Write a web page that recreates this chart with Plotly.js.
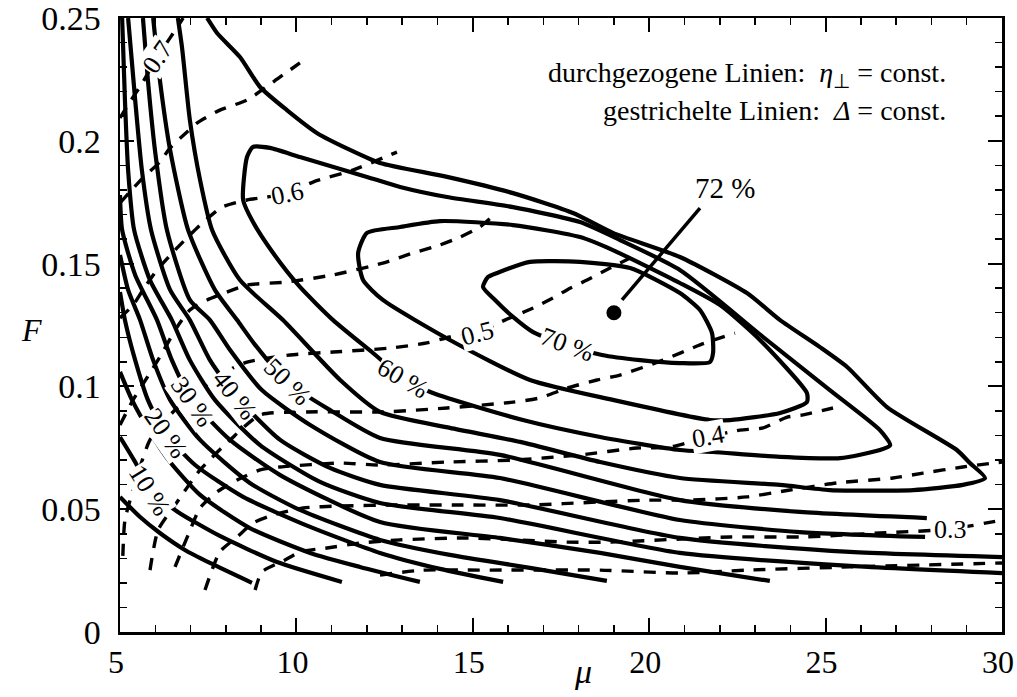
<!DOCTYPE html>
<html><head><meta charset="utf-8">
<script src="https://cdn.plot.ly/plotly-3.0.1.min.js"></script>
<style>html,body{margin:0;padding:0;background:#fff}</style>
</head><body><div id="chart" style="width:1017px;height:697px"></div>
<script>
// ---- solid lines: eta = const ----
const eta05Mu = [5.00, 5.57, 6.13, 6.84, 7.55, 8.74];
const eta05F  = [0.0550, 0.0468, 0.0403, 0.0334, 0.0281, 0.0200];
const eta10Mu = [5.00, 5.43, 5.85, 6.64, 7.83, 9.45, 11.29];
const eta10F  = [0.0794, 0.0692, 0.0578, 0.0489, 0.0391, 0.0285, 0.0204];
const eta15Mu = [5.00, 5.34, 5.85, 6.42, 7.27, 8.68, 10.39, 11.80, 13.50];
const eta15F  = [0.1059, 0.0945, 0.0814, 0.0692, 0.0558, 0.0423, 0.0322, 0.0265, 0.0204];
const eta20Mu = [5.00, 5.14, 5.43, 5.79, 6.28, 7.13, 8.49, 10.39, 12.37, 14.07, 15.86];
const eta20F  = [0.1384, 0.1270, 0.1107, 0.0945, 0.0810, 0.0680, 0.0550, 0.0428, 0.0322, 0.0257, 0.0204];
const eta25Mu = [5.00, 5.23, 5.57, 5.94, 6.42, 7.27, 8.68, 10.10, 12.37, 14.35, 16.62, 18.80];
const eta25F  = [0.1535, 0.1393, 0.1270, 0.1107, 0.0945, 0.0782, 0.0607, 0.0497, 0.0375, 0.0314, 0.0261, 0.0208];
const eta30Mu = [5.00, 5.06, 5.43, 6.05, 6.47, 7.04, 8.12, 9.54, 12.37, 15.77, 18.61, 20.87, 23.42];
const eta30F  = [0.1779, 0.1637, 0.1454, 0.1270, 0.1107, 0.0945, 0.0782, 0.0639, 0.0448, 0.0383, 0.0322, 0.0265, 0.0208];
const eta35Mu = [5.06, 5.14, 5.23, 5.40, 5.85, 6.47, 6.98, 7.69, 8.97, 10.67, 12.37, 15.77, 20.87, 25.69, 30.00];
const eta35F  = [0.2500, 0.2166, 0.1881, 0.1637, 0.1433, 0.1270, 0.1107, 0.0945, 0.0761, 0.0611, 0.0525, 0.0464, 0.0322, 0.0269, 0.0240];
const eta40Mu = [5.23, 5.43, 5.62, 5.88, 6.42, 6.98, 7.55, 8.26, 9.54, 10.95, 12.37, 15.77, 20.87, 25.69, 30.00];
const eta40F  = [0.2500, 0.2166, 0.1881, 0.1637, 0.1393, 0.1270, 0.1107, 0.0965, 0.0782, 0.0668, 0.0599, 0.0537, 0.0383, 0.0326, 0.0305];
const eta45Mu = [5.65, 5.79, 5.99, 6.33, 6.98, 7.55, 8.12, 9.02, 10.39, 12.37, 15.77, 20.87, 24.27, 27.82];
const eta45F  = [0.2500, 0.2248, 0.1963, 0.1637, 0.1352, 0.1270, 0.1148, 0.0985, 0.0843, 0.0692, 0.0627, 0.0456, 0.0407, 0.0387];
const eta50Mu = [5.94, 6.13, 6.42, 6.93, 7.69, 8.32, 8.83, 9.73, 10.95, 12.37, 15.77, 20.87, 24.27, 27.87];
const eta50F  = [0.2500, 0.2248, 0.1963, 0.1637, 0.1393, 0.1270, 0.1169, 0.1018, 0.0904, 0.0790, 0.0721, 0.0537, 0.0489, 0.0464];
const eta55Mu = [6.64, 6.76, 6.98, 7.27, 7.61, 8.40, 9.62, 11.24, 12.37, 14.35, 16.34, 18.61, 20.87, 23.71, 25.12, 27.48, 28.89, 29.52, 29.09, 28.72, 26.74, 25.61, 24.84, 23.71, 22.77, 20.87, 18.97, 17.84, 16.14, 14.27, 12.37, 11.52, 10.58, 9.73, 8.97, 8.40, 7.75, 7.47];
const eta55F  = [0.2500, 0.2378, 0.2085, 0.1840, 0.1637, 0.1433, 0.1270, 0.1026, 0.0896, 0.0831, 0.0774, 0.0692, 0.0627, 0.0599, 0.0578, 0.0578, 0.0599, 0.0627, 0.0688, 0.0741, 0.0916, 0.1079, 0.1160, 0.1270, 0.1380, 0.1527, 0.1625, 0.1706, 0.1787, 0.1853, 0.1910, 0.1963, 0.2032, 0.2125, 0.2219, 0.2341, 0.2439, 0.2500];
const eta60Mu = [8.77, 8.60, 8.49, 8.77, 9.34, 10.10, 11.04, 12.17, 13.02, 13.87, 16.42, 18.61, 20.87, 21.81, 23.71, 25.41, 26.54, 26.83, 26.54, 25.12, 23.23, 20.87, 19.17, 18.04, 16.14, 14.27, 12.94, 12.00, 10.10, 9.25, 8.77];
const eta60F  = [0.1975, 0.1934, 0.1759, 0.1669, 0.1543, 0.1405, 0.1270, 0.1136, 0.1034, 0.0973, 0.0863, 0.0794, 0.0741, 0.0733, 0.0713, 0.0708, 0.0741, 0.0761, 0.0822, 0.0985, 0.1201, 0.1474, 0.1596, 0.1669, 0.1730, 0.1771, 0.1812, 0.1853, 0.1934, 0.1971, 0.1975];
const eta65Mu = [12.94, 12.00, 11.75, 11.89, 12.45, 14.35, 16.62, 18.97, 21.72, 22.29, 23.71, 24.47, 24.47, 23.14, 22.01, 20.87, 18.97, 18.04, 16.14, 14.07, 12.94];
const eta65F  = [0.1649, 0.1625, 0.1543, 0.1433, 0.1352, 0.1189, 0.1026, 0.0945, 0.0863, 0.0863, 0.0892, 0.0936, 0.0973, 0.1189, 0.1331, 0.1421, 0.1555, 0.1608, 0.1657, 0.1673, 0.1649];
const eta70Mu = [16.71, 16.14, 15.63, 15.29, 15.43, 15.69, 16.62, 18.04, 19.46, 20.87, 21.44, 21.78, 21.81, 21.72, 20.87, 19.74, 18.66, 17.67, 16.71];
const eta70F  = [0.1221, 0.1283, 0.1352, 0.1405, 0.1445, 0.1462, 0.1507, 0.1507, 0.1482, 0.1380, 0.1311, 0.1217, 0.1136, 0.1099, 0.1095, 0.1107, 0.1128, 0.1169, 0.1221];

// ---- dashed lines: Delta = const ----
const d70Mu = [5.00, 5.28, 5.65, 6.05, 6.42, 6.79];
const d70F  = [0.2093, 0.2158, 0.2239, 0.2341, 0.2419, 0.2500];
const d65Mu = [5.00, 5.28, 5.65, 6.13, 6.42, 6.90, 7.18, 7.83, 8.60, 9.54, 10.10];
const d65F  = [0.1747, 0.1792, 0.1849, 0.1914, 0.1971, 0.2036, 0.2072, 0.2125, 0.2166, 0.2260, 0.2317];
const d60Mu = [5.00, 5.37, 5.65, 6.05, 6.56, 7.27, 7.89, 8.60, 9.17, 9.76, 10.47, 11.60, 12.85];
const d60F  = [0.1279, 0.1331, 0.1393, 0.1474, 0.1555, 0.1657, 0.1730, 0.1759, 0.1771, 0.1787, 0.1832, 0.1881, 0.1954];
const d55Mu = [5.00, 5.37, 5.85, 6.13, 6.62, 6.98, 7.47, 8.03, 8.60, 9.73, 11.04, 12.45, 13.30, 14.07, 14.64, 15.20, 15.69];
const d55F  = [0.0843, 0.0945, 0.1055, 0.1120, 0.1242, 0.1311, 0.1352, 0.1384, 0.1413, 0.1425, 0.1454, 0.1502, 0.1543, 0.1576, 0.1608, 0.1649, 0.1710];
const d50Mu = [5.08, 5.14, 5.37, 5.85, 6.56, 7.27, 7.98, 8.60, 9.82, 11.04, 12.65, 13.70, 14.35, 15.12, 15.91, 16.71, 17.27, 17.67, 18.24, 18.89, 19.46];
const d50F  = [0.0310, 0.0456, 0.0578, 0.0782, 0.0904, 0.0985, 0.1059, 0.1099, 0.1128, 0.1140, 0.1156, 0.1177, 0.1201, 0.1217, 0.1270, 0.1319, 0.1360, 0.1393, 0.1433, 0.1482, 0.1523];
const d45Mu = [5.85, 6.08, 6.56, 7.27, 8.12, 8.97, 10.30, 12.45, 14.27, 16.14, 16.90, 17.67, 18.52, 19.17, 20.39, 21.44, 22.43];
const d45F  = [0.0252, 0.0415, 0.0517, 0.0660, 0.0782, 0.0884, 0.0896, 0.0896, 0.0912, 0.0936, 0.0953, 0.0993, 0.1026, 0.1046, 0.1107, 0.1169, 0.1217];
const d40Mu = [6.56, 6.93, 7.27, 7.75, 8.32, 8.97, 9.54, 11.24, 12.37, 14.27, 16.14, 18.04, 19.65, 20.59, 21.67, 22.57, 23.23, 23.91, 24.36, 25.21];
const d40F  = [0.0265, 0.0395, 0.0505, 0.0570, 0.0619, 0.0660, 0.0672, 0.0688, 0.0680, 0.0692, 0.0700, 0.0721, 0.0749, 0.0753, 0.0794, 0.0822, 0.0831, 0.0875, 0.0884, 0.0912];
const d35Mu = [7.41, 7.83, 8.32, 8.77, 9.34, 10.19, 11.24, 12.85, 14.72, 16.62, 18.52, 19.94, 21.16, 22.77, 23.99, 25.32, 26.91, 27.76, 28.89, 30.00];
const d35F  = [0.0171, 0.0326, 0.0387, 0.0444, 0.0476, 0.0505, 0.0513, 0.0517, 0.0517, 0.0517, 0.0529, 0.0537, 0.0537, 0.0550, 0.0578, 0.0607, 0.0627, 0.0647, 0.0672, 0.0692];
const d30Mu = [8.83, 9.02, 9.68, 10.10, 10.87, 11.80, 12.94, 14.84, 17.67, 18.89, 22.29, 24.36, 26.54, 28.53, 30.00];
const d30F  = [0.0171, 0.0244, 0.0293, 0.0326, 0.0342, 0.0362, 0.0375, 0.0383, 0.0366, 0.0366, 0.0387, 0.0387, 0.0403, 0.0419, 0.0456];
const d25Mu = [12.37, 13.59, 15.20, 18.61, 20.87, 22.77, 25.69, 30.00];
const d25F  = [0.0232, 0.0252, 0.0252, 0.0252, 0.0240, 0.0252, 0.0265, 0.0281];

// ---- tick labels and text labels ----
const xTickVals = [5, 10, 15, 20, 25, 30];
const xTickText = ['5', '10', '15', '20', '25', '30'];
const yTickVals = [0, 0.05, 0.1, 0.15, 0.2, 0.25];
const yTickText = ['0', '0.05', '0.1', '0.15', '0.2', '0.25'];
const etaLabels  = ['10 %', '20 %', '30 %', '40 %', '50 %', '60 %', '70 %'];
const etaLabMu   = [5.85, 6.31, 7.04, 8.26, 9.73, 13.02, 17.67];
const etaLabF    = [0.0578, 0.0810, 0.0937, 0.0965, 0.1018, 0.1034, 0.1169];
const etaLabRot  = [58, 55, 55, 52, 45, 30, 20];
const dLabels    = ['0.7', '0.6', '0.5', '0.4', '0.3'];
const dLabMu     = [6.05, 9.76, 15.12, 21.67, 28.53];
const dLabF      = [0.2341, 0.1787, 0.1217, 0.0794, 0.0419];
const dLabRot    = [-55, -12, -15, -10, 0];
const maxMu = [19.0], maxF = [0.130];

const solid = [[eta05Mu,eta05F],[eta10Mu,eta10F],[eta15Mu,eta15F],[eta20Mu,eta20F],[eta25Mu,eta25F],
  [eta30Mu,eta30F],[eta35Mu,eta35F],[eta40Mu,eta40F],[eta45Mu,eta45F],[eta50Mu,eta50F],[eta55Mu,eta55F],
  [eta60Mu,eta60F],[eta65Mu,eta65F],[eta70Mu,eta70F]];
const dashed = [[d70Mu,d70F],[d65Mu,d65F],[d60Mu,d60F],[d55Mu,d55F],[d50Mu,d50F],[d45Mu,d45F],
  [d40Mu,d40F],[d35Mu,d35F],[d30Mu,d30F],[d25Mu,d25F]];

const traces = [];
dashed.forEach(([x,y]) => traces.push({x, y, type:'scatter', mode:'lines', hoverinfo:'skip',
  line:{color:'#000', width:3.4, dash:'12px,10px', shape:'spline', smoothing:0.6}}));
solid.forEach(([x,y]) => traces.push({x, y, type:'scatter', mode:'lines', hoverinfo:'skip',
  line:{color:'#000', width:4.2, shape:'spline', smoothing:0.6}}));
traces.push({x:maxMu, y:maxF, type:'scatter', mode:'markers', marker:{color:'#000', size:15}, hoverinfo:'skip'});

const font = 'Liberation Serif';
const ann = [];
etaLabels.forEach((t,i) => ann.push({x:etaLabMu[i], y:etaLabF[i], xref:'x', yref:'y', text:t, showarrow:false,
  textangle:etaLabRot[i], bgcolor:'#fff', borderpad:0, font:{family:font, size:26, color:'#000'}}));
dLabels.forEach((t,i) => ann.push({x:dLabMu[i], y:dLabF[i], xref:'x', yref:'y', text:t, showarrow:false,
  textangle:dLabRot[i], bgcolor:'#fff', borderpad:0, font:{family:font, size:26, color:'#000'}}));
ann.push({x:22.15, y:0.1808, xref:'x', yref:'y', text:'72 %', showarrow:false, font:{family:font, size:29, color:'#000'}});
ann.push({x:28.47, y:0.2268, xref:'x', yref:'y', xanchor:'right', showarrow:false,
  text:'durchgezogene Linien:  <i>η</i><sub>⊥</sub> = const.', font:{family:font, size:28, color:'#000'}});
ann.push({x:28.47, y:0.2125, xref:'x', yref:'y', xanchor:'right', showarrow:false,
  text:'gestrichelte Linien:  <i>Δ</i> = const.', font:{family:font, size:28, color:'#000'}});
ann.push({x:-0.115, y:0.492, xref:'paper', yref:'paper', text:'<i>F</i>', showarrow:false, font:{family:font, size:32, color:'#000'}});
ann.push({x:0.525, y:-0.098, xref:'paper', yref:'paper', text:'<i>μ</i>', showarrow:false, font:{family:font, size:34, color:'#000'}});

const axisBase = {showgrid:false, zeroline:false, showline:true, linecolor:'#000', linewidth:2.5, mirror:'allticks',
  ticks:'inside', ticklen:14, tickwidth:2, tickcolor:'#000', ticklabeloverflow:'allow'};
const layout = {
  width:1017, height:697, margin:{l:120, r:15, t:18, b:65}, showlegend:false,
  font:{family:font, size:32, color:'#000'},
  paper_bgcolor:'#fff', plot_bgcolor:'#fff',
  xaxis:Object.assign({}, axisBase, {range:[5,30], tickmode:'array', tickvals:xTickVals, ticktext:xTickText,
    tickfont:{family:font, size:32, color:'#000'}, ticklabelshift:-4,
    minor:{dtick:1, tick0:5, ticks:'inside', ticklen:7, tickwidth:1.5, tickcolor:'#000'}}),
  yaxis:Object.assign({}, axisBase, {range:[0,0.25], tickmode:'array', tickvals:yTickVals, ticktext:yTickText,
    tickfont:{family:font, size:34, color:'#000'}, ticklabelstandoff:10,
    minor:{dtick:0.01, tick0:0, ticks:'inside', ticklen:7, tickwidth:1.5, tickcolor:'#000'}}),
  shapes:[{type:'line', xref:'x', yref:'y', x0:19.23, y0:0.1352, x1:21.44, y1:0.1726, line:{color:'#000', width:3.5}}],
  annotations:ann
};
Plotly.newPlot('chart', traces, layout, {staticPlot:true});
</script></body></html>
